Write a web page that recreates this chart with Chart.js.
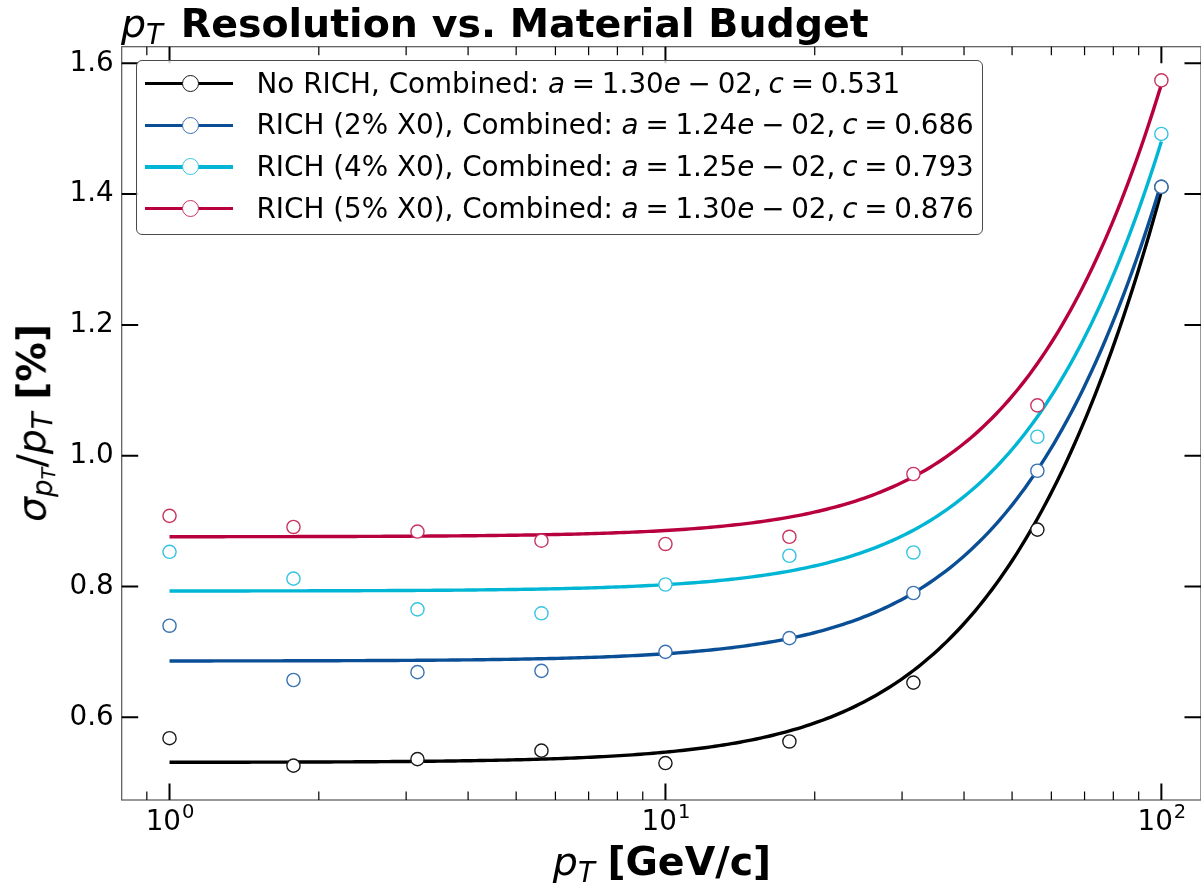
<!DOCTYPE html>
<html>
<head>
<meta charset="utf-8">
<script src="https://cdn.jsdelivr.net/npm/chart.js@4.4.1/dist/chart.umd.min.js"></script>
<style>
  html, body { margin: 0; padding: 0; background: #fff; }
  #wrap { position: relative; width: 1201px; height: 883px; overflow: hidden;
          font-family: 'DejaVu Sans', sans-serif; color: #000; }
  #plot { position: absolute; left: 0; top: 0; }
  .mi { font-style: italic; font-weight: normal; }
  .sub { font-size: 0.7em; position: relative; top: 0.24em; }
  .sub2 { font-size: 0.7em; position: relative; top: 0.2em; }
  .title { position: absolute; left: 121px; top: 4px; font-size: 39.5px; font-weight: bold;
           line-height: 1; white-space: nowrap; }
  .title .mi { margin-right: 4px; }
  .xlabel { position: absolute; left: 662px; top: 842px; transform: translateX(-50%);
            font-size: 39.5px; line-height: 1; white-space: nowrap; }
  .ylabel { position: absolute; left: 32px; top: 423px; font-size: 39.5px; line-height: 1;
            white-space: nowrap; transform: translate(-50%, -50%) rotate(-90deg); }
  .b { font-weight: bold; }
  .legend { position: absolute; left: 136px; top: 60px; width: 847px; height: 175px;
            box-sizing: border-box; border: 1.2px solid #4a4a4a; border-radius: 6px;
            background: rgba(255,255,255,0.8); }
  .row { position: absolute; left: 0; height: 28px; width: 100%; }
  .hl { position: absolute; left: 8px; width: 88px; height: 3.5px; top: 12.3px; }
  .hm { position: absolute; left: 44.5px; top: 5.5px; width: 17px; height: 17px; box-sizing: border-box;
        border-radius: 50%; background: #fff; border: 1.6px solid; }
  .lt { position: absolute; left: 119.5px; top: 0; font-size: 27.8px; line-height: 28px; white-space: nowrap; }
  .math { word-spacing: -2.1px; }
</style>
</head>
<body>
<div id="wrap">
  <canvas id="plot" width="1201" height="883"></canvas>
  <div class="title"><span class="mi">p<span class="sub">T</span></span> Resolution vs. Material Budget</div>
  <div class="xlabel"><span class="mi">p<span class="sub">T</span></span> <span class="b">[GeV/c]</span></div>
  <div class="ylabel"><span class="mi">σ<span class="sub">p<span class="sub2">T</span></span></span>/<span class="mi">p<span class="sub">T</span></span> <span class="b">[%]</span></div>
  <div class="legend" id="legend"></div>
</div>
<script>
// transverse momentum points (GeV/c)
const ptValues = [1, 1.778, 3.162, 5.623, 10, 17.78, 31.62, 56.23, 100];

// sigma(pT)/pT in percent
const noRich   = [0.568, 0.526, 0.536, 0.549, 0.530, 0.563, 0.653, 0.887, 1.411];
const rich2    = [0.740, 0.657, 0.669, 0.671, 0.700, 0.721, 0.790, 0.977, 1.411];
const rich4    = [0.853, 0.812, 0.765, 0.759, 0.803, 0.847, 0.852, 1.029, 1.492];
const rich5    = [0.908, 0.891, 0.884, 0.870, 0.865, 0.876, 0.972, 1.077, 1.574];

// combined fit parameters: sigma/pT = a*pT (+) c
const fitA = [1.30e-2, 1.24e-2, 1.25e-2, 1.30e-2];
const fitC = [0.531, 0.686, 0.793, 0.876];
const fitAText = ['1.30', '1.24', '1.25', '1.30'];
const fitCText = ['0.531', '0.686', '0.793', '0.876'];

const seriesNames = ['No RICH', 'RICH (2% X0)', 'RICH (4% X0)', 'RICH (5% X0)'];
const lineColors   = ['#000000', '#0a4f96', '#00b6d4', '#b8003e'];
const markerColors = ['#1a1a1a', '#3a72b2', '#35c5e2', '#c93560'];

// axis ticks
const xMajorTicks = [1, 10, 100];
const xMinorTicks = [0.9, 2, 3, 4, 5, 6, 7, 8, 9, 20, 30, 40, 50, 60, 70, 80, 90];
const xTickExp    = ['0', '1', '2'];
const yTicks      = [0.6, 0.8, 1.0, 1.2, 1.4, 1.6];

const seriesValues = [noRich, rich2, rich4, rich5];

// quadrature sum of the stated fit parameters
function fitCurve(a, c) {
  const pts = [];
  const n = 240;
  for (let i = 0; i <= n; i++) {
    const pt = Math.pow(10, 2 * i / n);
    pts.push({ x: pt, y: Math.sqrt((a * pt) * (a * pt) + c * c) });
  }
  return pts;
}

const datasets = [];
seriesValues.forEach((vals, k) => {
  datasets.push({
    type: 'line',
    data: fitCurve(fitA[k], fitC[k]),
    borderColor: lineColors[k],
    borderWidth: 3.4,
    pointRadius: 0,
    fill: false,
    tension: 0,
    order: 10 - k
  });
});
seriesValues.forEach((vals, k) => {
  datasets.push({
    type: 'scatter',
    data: ptValues.map((x, i) => ({ x: x, y: vals[i] })),
    pointStyle: 'circle',
    pointRadius: 6.6,
    pointBorderWidth: 1.4,
    pointBackgroundColor: '#ffffff',
    pointBorderColor: markerColors[k],
    showLine: false,
    order: 4 - k
  });
});

const FONT = "'DejaVu Sans', sans-serif";

// spines, inward ticks and the 10^n tick labels
const frame = {
  id: 'frame',
  afterDraw(chart) {
    const ctx = chart.ctx;
    const a = chart.chartArea;
    const xs = chart.scales.x, ys = chart.scales.y;
    ctx.save();
    ctx.strokeStyle = '#555';
    ctx.lineWidth = 1.2;
    ctx.strokeRect(a.left, a.top, a.right - a.left, a.bottom - a.top);

    ctx.strokeStyle = '#000';
    const xtick = (v, len, w) => {
      const px = xs.getPixelForValue(v);
      ctx.lineWidth = w;
      ctx.beginPath();
      ctx.moveTo(px, a.bottom); ctx.lineTo(px, a.bottom - len);
      ctx.moveTo(px, a.top); ctx.lineTo(px, a.top + len);
      ctx.stroke();
    };
    xMinorTicks.forEach(v => xtick(v, 8.5, 1.2));
    xMajorTicks.forEach(v => xtick(v, 16.5, 2));
    yTicks.forEach(v => {
      const py = ys.getPixelForValue(v);
      ctx.lineWidth = 2;
      ctx.beginPath();
      ctx.moveTo(a.left, py); ctx.lineTo(a.left + 16.5, py);
      ctx.moveTo(a.right, py); ctx.lineTo(a.right - 16.5, py);
      ctx.stroke();
    });

    // x tick labels: 10 with raised exponent
    ctx.fillStyle = '#000';
    ctx.textBaseline = 'alphabetic';
    ctx.textAlign = 'left';
    xMajorTicks.forEach((v, i) => {
      const px = xs.getPixelForValue(v);
      ctx.font = '27.8px ' + FONT;
      const wBase = ctx.measureText('10').width;
      ctx.font = '19.5px ' + FONT;
      const wExp = ctx.measureText(xTickExp[i]).width;
      const x0 = px - (wBase + wExp) / 2;
      ctx.font = '27.8px ' + FONT;
      ctx.fillText('10', x0, a.bottom + 30);
      ctx.font = '19.5px ' + FONT;
      ctx.fillText(xTickExp[i], x0 + wBase + 1, a.bottom + 17.5);
    });
    ctx.restore();
  }
};

new Chart(document.getElementById('plot'), {
  type: 'scatter',
  data: { datasets },
  options: {
    responsive: false,
    animation: false,
    devicePixelRatio: 1,
    layout: { autoPadding: false, padding: { top: 46.7, right: 0, left: 0, bottom: 0 } },
    plugins: { legend: { display: false }, tooltip: { enabled: false }, title: { display: false } },
    scales: {
      x: {
        type: 'logarithmic',
        min: 0.8009, max: 120.2,
        afterFit(s) { s.height = 83; },
        afterBuildTicks(s) { s.ticks = xMajorTicks.map(v => ({ value: v })); },
        ticks: { display: false },
        grid: { display: false },
        border: { display: false }
      },
      y: {
        type: 'linear',
        min: 0.4735, max: 1.6254,
        afterFit(s) { s.width = 121.7; },
        afterBuildTicks(s) { s.ticks = yTicks.map(v => ({ value: v })); },
        ticks: {
          font: { family: FONT, size: 27.8 },
          color: '#000',
          padding: 8,
          callback: v => Number(v).toFixed(1)
        },
        grid: { display: false, drawTicks: false },
        border: { display: false }
      }
    }
  },
  plugins: [frame]
});

// legend rows
const legend = document.getElementById('legend');
seriesNames.forEach((name, k) => {
  const row = document.createElement('div');
  row.className = 'row';
  row.style.top = (8.7 + k * 41.6) + 'px';
  row.innerHTML =
    '<div class="hl" style="background:' + lineColors[k] + '"></div>' +
    '<div class="hm" style="border-color:' + markerColors[k] + '"></div>' +
    '<div class="lt">' + name + ', Combined: <span class="math"><i>a</i> = ' + fitAText[k] +
    '<i>e</i> − 02, <i>c</i> = ' + fitCText[k] + '</span></div>';
  legend.appendChild(row);
});
</script>
</body>
</html>
